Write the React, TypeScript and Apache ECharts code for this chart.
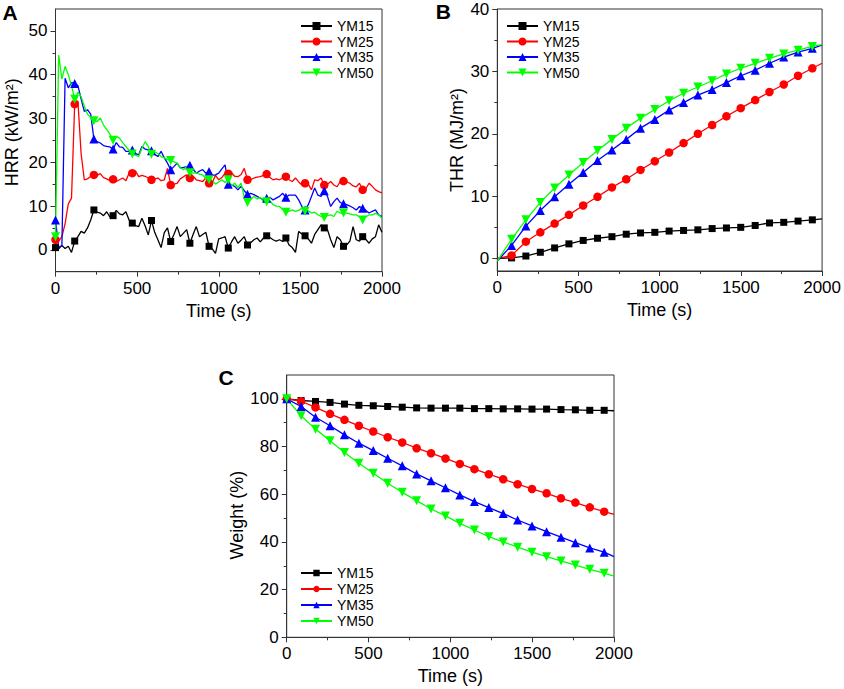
import React, { useEffect, useRef } from 'react';
import * as echarts from 'echarts';

// ---------- data ----------
const SERIES_NAMES = ['YM15', 'YM25', 'YM35', 'YM50'];

// Panel A: heat release rate (kW/m2), sampled every HRR_STEP seconds
const HRR_STEP = 19.6;
const HRR_MARK_EVERY = 6;
const HRR_YM15 = [
  0.5, 0.2, 1.0, 0.3, 0.8, -0.6, 2.0, 3.0, 4.2, 3.8,
  5.0, 6.8, 9.1, 8.6, 8.4, 7.8, 8.7, 7.5, 7.8, 9.0,
  8.2, 8.0, 8.7, 6.8, 6.1, 5.5, 5.3, 7.2, 5.5, 3.4,
  6.7, 4.0, 2.3, 0.5, 3.9, 5.0, 1.9, 3.5, 5.3, 3.0,
  3.8, 4.6, 1.5, 3.5, 5.3, 3.0, 3.5, 4.0, 0.8, 0.2,
  -0.8, 2.5, 2.7, 3.0, 0.4, 1.8, 3.0, 1.5, 2.2, 3.0,
  1.1, 1.6, 2.3, 2.7, 1.8, 2.7, 3.2, 2.8, 2.3, 2.0,
  2.3, 1.9, 2.7, 1.1, 0.5, -0.6, 4.2, 3.6, 3.2, 2.5,
  1.5, 3.5, 4.6, 5.7, 5.0, 4.6, 2.3, 0.5, 3.0, 2.3,
  0.8, 1.1, 2.0, 5.3, 2.3, 2.0, 3.0, 2.4, 1.5, 2.5,
  3.0, 5.7, 4.0,
];
const HRR_YM25 = [
  2.3, 2.0, 3.0, 6.0, 10.5, 11.8, 33.3, 34.0, 22.0, 16.0,
  16.2, 16.8, 17.1, 17.0, 17.4, 16.5, 16.2, 15.8, 16.1, 15.6,
  16.0, 16.4, 15.8, 17.5, 17.5, 18.0, 16.7, 17.0, 16.8, 16.4,
  16.0, 16.2, 16.4, 15.8, 16.0, 18.6, 14.8, 15.0, 15.2, 16.2,
  16.7, 17.1, 16.4, 16.8, 16.0, 15.8, 15.6, 16.4, 15.2, 15.4,
  17.0, 16.0, 16.5, 17.5, 17.4, 17.6, 16.8, 16.7, 17.2, 18.6,
  16.0, 16.0, 16.4, 16.6, 16.7, 17.0, 17.3, 16.5, 16.0, 16.2,
  16.0, 16.4, 16.7, 16.0, 15.6, 16.4, 15.5, 14.8, 15.2, 15.0,
  13.7, 16.0, 15.8, 16.4, 14.8, 15.0, 15.6, 14.8, 14.4, 15.6,
  15.7, 15.5, 15.2, 14.6, 14.4, 15.2, 13.7, 14.0, 15.2, 14.5,
  13.7, 13.3, 13.0,
];
const HRR_YM35 = [
  6.8, 0.5, 1.0, 39.2, 37.0, 38.2, 38.0, 37.5, 34.5, 31.6,
  32.0, 31.0, 25.3, 24.7, 24.4, 23.8, 23.6, 23.5, 23.0, 24.5,
  23.5, 23.4, 22.5, 22.5, 22.8, 22.0, 21.7, 23.6, 23.0, 22.8,
  22.6, 21.8, 21.3, 22.5, 21.0, 19.8, 18.3, 19.0, 19.8, 18.7,
  18.8, 19.0, 19.3, 18.4, 17.5, 18.0, 18.3, 17.5, 17.9, 17.0,
  17.1, 17.5, 18.5, 19.4, 15.0, 14.8, 14.5, 13.7, 14.5, 13.5,
  12.7, 12.9, 12.6, 12.2, 11.8, 11.4, 11.8, 12.0, 11.4, 11.8,
  12.2, 12.9, 12.0, 12.5, 12.5, 12.5, 11.4, 9.9, 9.1, 10.3,
  12.2, 14.1, 12.5, 12.2, 13.5, 12.2, 9.9, 11.0, 11.8, 10.8,
  10.5, 10.3, 10.0, 9.6, 9.1, 9.9, 9.5, 9.0, 8.4, 8.8,
  9.1, 8.0, 7.6,
];
const HRR_YM50 = [
  3.0, 44.5, 39.0, 41.9, 40.0, 37.5, 34.4, 36.0, 35.0, 32.8,
  31.0, 30.2, 29.5, 29.3, 30.1, 28.5, 27.5, 26.4, 25.0, 25.9,
  25.5, 24.5, 23.6, 22.7, 21.9, 21.6, 21.3, 23.2, 24.7, 23.6,
  21.8, 22.3, 22.0, 21.3, 21.0, 20.6, 20.4, 20.1, 19.8, 18.8,
  18.3, 19.0, 17.6, 17.5, 17.6, 17.3, 17.1, 16.3, 16.0, 15.8,
  15.0, 15.5, 16.0, 15.4, 16.0, 14.6, 15.2, 14.2, 15.2, 12.0,
  10.8, 11.5, 12.2, 11.6, 12.0, 11.0, 11.0, 11.2, 10.3, 10.0,
  9.9, 9.2, 8.6, 8.8, 9.1, 8.8, 9.0, 9.5, 8.8, 8.9,
  8.4, 8.6, 8.0, 7.6, 7.4, 7.8, 8.0, 7.6, 8.8, 8.4,
  8.4, 8.4, 8.2, 8.0, 8.0, 7.5, 6.8, 7.5, 8.0, 8.0,
  8.3, 8.0, 7.2,
];

// Panel B: total heat release (MJ/m2)
const THR_TIME = [0, 88, 176, 265, 353, 441, 529, 617, 706, 794, 882, 970, 1058, 1147, 1235, 1323, 1411, 1499, 1588, 1676, 1764, 1852, 1940, 2000];
const THR_YM15 = [0, 0.1, 0.4, 1.0, 1.7, 2.35, 2.9, 3.25, 3.5, 3.9, 4.1, 4.2, 4.4, 4.5, 4.6, 4.8, 4.9, 5.0, 5.3, 5.7, 5.8, 6.0, 6.2, 6.35];
const THR_YM25 = [0, 0.5, 2.7, 4.2, 5.6, 7.0, 8.5, 9.9, 11.4, 12.7, 14.2, 15.6, 17.0, 18.5, 20.0, 21.4, 22.8, 24.1, 25.4, 26.7, 27.9, 29.3, 30.5, 31.3];
const THR_YM35 = [-0.4, 2.1, 5.2, 7.7, 9.9, 11.9, 13.8, 15.7, 17.4, 19.1, 20.9, 22.3, 23.8, 25.0, 26.2, 27.1, 28.2, 29.3, 30.2, 31.3, 32.3, 33.1, 33.7, 34.2];
const THR_YM50 = [-0.4, 3.1, 6.2, 9.0, 11.3, 13.4, 15.4, 17.3, 19.1, 20.9, 22.5, 23.9, 25.3, 26.5, 27.5, 28.5, 29.6, 30.5, 31.3, 32.1, 32.8, 33.4, 34.0, 34.3];

// Panel C: weight (%)
const TG_TIME = [0, 88, 176, 265, 353, 441, 529, 617, 706, 794, 882, 970, 1058, 1147, 1235, 1323, 1411, 1499, 1588, 1676, 1764, 1852, 1940, 2000];
const TG_YM15 = [100, 99.3, 98.9, 98.5, 97.8, 97.3, 97.1, 96.8, 96.5, 96.2, 96.1, 96.1, 96.1, 95.9, 95.9, 95.8, 95.8, 95.7, 95.7, 95.5, 95.4, 95.2, 95.2, 95.0];
const TG_YM25 = [100, 99.0, 96.4, 93.7, 91.2, 88.7, 86.3, 83.9, 81.7, 79.3, 77.2, 75.0, 72.7, 70.5, 68.4, 66.3, 64.2, 62.2, 60.4, 58.3, 56.5, 54.5, 52.7, 51.6];
const TG_YM35 = [100, 96.8, 92.3, 88.7, 84.9, 81.4, 78.3, 75.1, 71.9, 68.5, 65.6, 62.7, 59.7, 56.9, 54.4, 51.9, 49.2, 46.7, 44.3, 42.0, 39.7, 37.5, 35.7, 33.8];
const TG_YM50 = [100, 92.9, 87.3, 82.4, 77.5, 73.0, 68.8, 64.6, 60.8, 57.3, 53.8, 50.9, 47.8, 45.0, 42.2, 40.0, 37.8, 35.7, 33.8, 32.0, 30.3, 28.5, 26.9, 25.7];

// tick labels
const X_TICK_INTERVAL = 500;
const HRR_Y_TICKS = [0, 10, 20, 30, 40, 50];
const HRR_Y_MINOR = [5, 15, 25, 35, 45];
const THR_Y_TICKS = [0, 10, 20, 30, 40];
const THR_Y_MINOR = [5, 15, 25, 35];
const TG_Y_TICKS = [0, 20, 40, 60, 80, 100];
const TG_Y_MINOR = [10, 30, 50, 70, 90];

// ---------- styles ----------
const FONT = "'Liberation Sans', Arial, Helvetica, sans-serif";
const AXIS_COLOR = '#333333';
const COLORS = ['#000000', '#ff0000', '#0000ff', '#00ff00'];
const SYMBOLS = ['rect', 'circle', 'triangle', 'path://M0,0L10,0L5,8.66Z'];
const SYMBOL_SIZES = [7, 8.5, 9, 9];
const TICK_FONT = 17;
const plain = (v: number) => String(v);

function xAxisCfg(gridIndex: number) {
  return {
    type: 'value',
    gridIndex,
    min: 0,
    max: 2000,
    interval: X_TICK_INTERVAL,
    name: 'Time (s)',
    nameLocation: 'middle',
    nameGap: 30,
    nameTextStyle: { fontFamily: FONT, fontSize: 18, color: '#000' },
    axisLine: { show: true, onZero: false, lineStyle: { color: AXIS_COLOR, width: 1 } },
    axisTick: { show: true, inside: false, length: 5, lineStyle: { color: AXIS_COLOR, width: 1 } },
    minorTick: { show: true, splitNumber: 2, length: 3, lineStyle: { color: AXIS_COLOR, width: 1 } },
    axisLabel: { fontFamily: FONT, fontSize: TICK_FONT, color: '#000', margin: 8, formatter: plain },
    splitLine: { show: false },
    minorSplitLine: { show: false },
  };
}

function yAxisMain(gridIndex: number, min: number, max: number, ticks: number[], name: string, nameGap: number, padding: number[], margin: number) {
  return {
    type: 'value',
    gridIndex,
    position: 'left',
    min,
    max,
    name,
    nameLocation: 'middle',
    nameGap,
    nameTextStyle: { fontFamily: FONT, fontSize: 18, color: '#000', padding },
    axisLine: { show: true, onZero: false, lineStyle: { color: AXIS_COLOR, width: 1 } },
    axisTick: { show: true, inside: false, length: 5, customValues: ticks, lineStyle: { color: AXIS_COLOR, width: 1 } },
    axisLabel: { fontFamily: FONT, fontSize: TICK_FONT, color: '#000', margin, customValues: ticks, formatter: plain },
    splitLine: { show: false },
  };
}

function yAxisMinor(gridIndex: number, min: number, max: number, ticks: number[]) {
  return {
    type: 'value',
    gridIndex,
    position: 'left',
    min,
    max,
    axisLine: { show: false, onZero: false },
    axisTick: { show: true, inside: false, length: 3, customValues: ticks, lineStyle: { color: AXIS_COLOR, width: 1 } },
    axisLabel: { show: false },
    splitLine: { show: false },
  };
}

function makeSeries(idx: number, times: number[], values: number[], axisIdx: number, yIdx: number, marked: (i: number) => boolean) {
  const color = COLORS[idx];
  return {
    type: 'line',
    name: SERIES_NAMES[idx],
    xAxisIndex: axisIdx,
    yAxisIndex: yIdx,
    data: values.map((v, i) => (marked(i) ? [times[i], v] : { value: [times[i], v], symbol: 'none' })),
    symbol: SYMBOLS[idx],
    symbolSize: SYMBOL_SIZES[idx],
    showSymbol: true,
    showAllSymbol: true,
    lineStyle: { color, width: 1.3 },
    itemStyle: { color },
    emphasis: { disabled: true },
    silent: true,
  };
}

const legendBase = {
  orient: 'vertical',
  itemWidth: 31,
  itemHeight: 10,
  itemGap: 1.5,
  padding: 0,
  selectedMode: false,
  textStyle: { fontFamily: FONT, fontSize: 14, color: '#000' },
  data: SERIES_NAMES,
};

export default function App() {
  const ref = useRef<HTMLDivElement>(null);

  useEffect(() => {
    if (!ref.current) return;
    const chart = echarts.init(ref.current, null, { renderer: 'svg' });

    const hrrTimes = HRR_YM15.map((_, i) => Math.round(i * HRR_STEP * 10) / 10);
    const hrrMarked = (i: number) => i % HRR_MARK_EVERY === 0 && i < HRR_YM15.length - 3;
    const thrMarked = (i: number) => i >= 1 && i <= THR_TIME.length - 2;
    const tgMarked = (i: number) => i <= TG_TIME.length - 2;

    const hrr = [HRR_YM15, HRR_YM25, HRR_YM35, HRR_YM50];
    const thr = [THR_YM15, THR_YM25, THR_YM35, THR_YM50];
    const tg = [TG_YM15, TG_YM25, TG_YM35, TG_YM50];

    const series: any[] = [];
    hrr.forEach((vals, k) => series.push(makeSeries(k, hrrTimes, vals, 0, 0, hrrMarked)));
    thr.forEach((vals, k) => series.push(makeSeries(k, THR_TIME, vals, 1, 2, thrMarked)));
    tg.forEach((vals, k) => series.push(makeSeries(k, TG_TIME, vals, 2, 4, tgMarked)));

    const gridBase = { show: true, borderColor: AXIS_COLOR, borderWidth: 1, backgroundColor: 'transparent', containLabel: false };

    chart.setOption({
      animation: false,
      backgroundColor: '#ffffff',
      textStyle: { fontFamily: FONT },
      grid: [
        { ...gridBase, left: 55.5, top: 9, width: 326.5, height: 262.7 },
        { ...gridBase, left: 497.3, top: 9, width: 326.4, height: 262 },
        { ...gridBase, left: 286.7, top: 375, width: 327.3, height: 262.3 },
      ],
      xAxis: [xAxisCfg(0), xAxisCfg(1), xAxisCfg(2)],
      yAxis: [
        yAxisMain(0, -5, 55, HRR_Y_TICKS, 'HRR (kW/m²)', 35, [0, 0, 0, 16], 8),
        yAxisMinor(0, -5, 55, HRR_Y_MINOR),
        yAxisMain(1, -2, 40, THR_Y_TICKS, 'THR (MJ/m²)', 31, [0, 0, 0, 0], 8),
        yAxisMinor(1, -2, 40, THR_Y_MINOR),
        yAxisMain(2, 0, 110, TG_Y_TICKS, 'Weight (%)', 34, [0, 18, 0, 0], 8),
        yAxisMinor(2, 0, 110, TG_Y_MINOR),
      ],
      legend: [
        { ...legendBase, left: 300, top: 19 },
        { ...legendBase, left: 506, top: 19 },
        { ...legendBase, left: 300, top: 566, itemHeight: 8, itemGap: 2 },
      ],
      graphic: [
        { type: 'text', x: 10, y: 12.5, style: { text: 'A', fontFamily: FONT, fontSize: 21, fontWeight: 'bold', fill: '#000', align: 'center', verticalAlign: 'middle' } },
        { type: 'text', x: 443.3, y: 11.7, style: { text: 'B', fontFamily: FONT, fontSize: 21, fontWeight: 'bold', fill: '#000', align: 'center', verticalAlign: 'middle' } },
        { type: 'text', x: 226, y: 377.8, style: { text: 'C', fontFamily: FONT, fontSize: 21, fontWeight: 'bold', fill: '#000', align: 'center', verticalAlign: 'middle' } },
      ],
      series,
    });

    return () => chart.dispose();
  }, []);

  return <div ref={ref} style={{ position: 'fixed', left: 0, top: 0, width: 844, height: 689 }} />;
}
